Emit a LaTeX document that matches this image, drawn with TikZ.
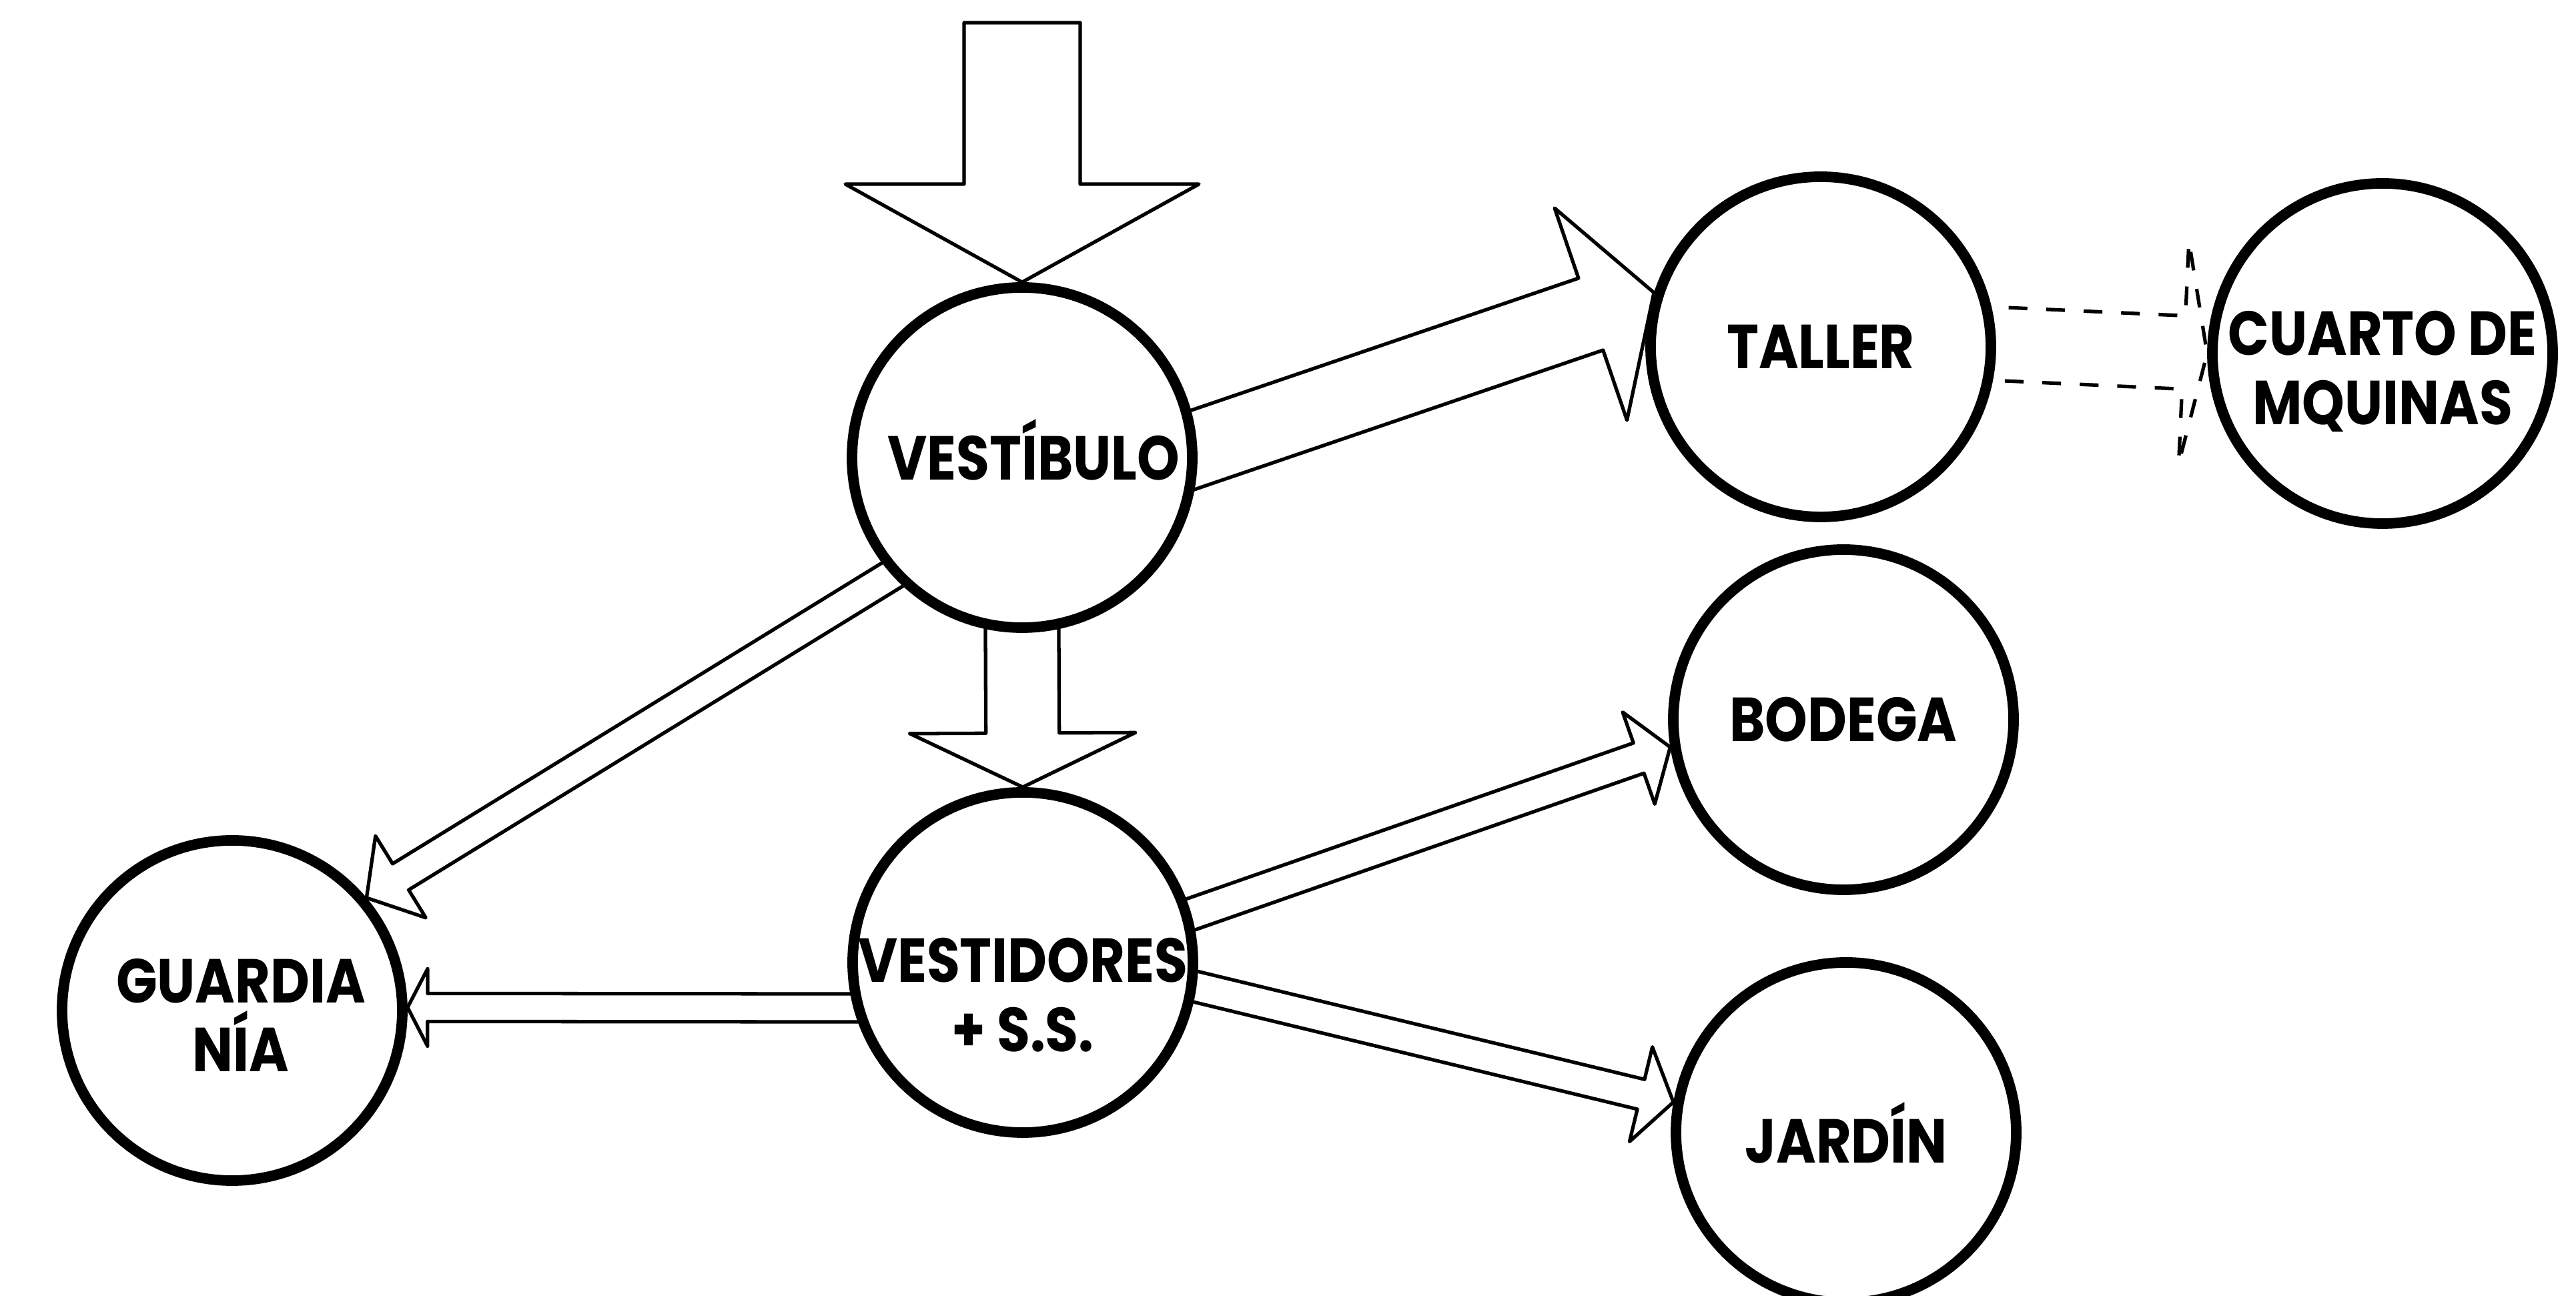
\documentclass[tikz,border=0pt]{standalone}
\usepackage{fontspec}
\setmainfont{Poppins}
\usetikzlibrary{calc,backgrounds}

% hollow block arrow: [style]{from}{to}{half shaft}{half head}{head length}
\newcommand{\blockarrow}[6][]{%
  \coordinate (ba-s) at ($(#2)!-4mm!(#3)$);
  \coordinate (ba-h) at ($(#3)!#6!(#2)$);
  \draw[arrowline,#1] ($(ba-s)!#4!90:(#3)$) -- ($(ba-h)!#4!-90:(ba-s)$)
    -- ($(ba-h)!#5!-90:(ba-s)$) -- (#3) -- ($(ba-h)!#5!90:(ba-s)$)
    -- ($(ba-h)!#4!90:(ba-s)$) -- ($(ba-s)!#4!-90:(#3)$);
}

\begin{document}
\begin{tikzpicture}[
  room/.style={circle, draw, line width=4.5pt, fill=white, minimum size=5.1cm, inner sep=0pt},
  roomtext/.style={font=\bfseries\fontsize{26.5}{29.5}\selectfont, align=center, inner sep=0pt,
    xscale=0.87, transform shape},
  arrowline/.style={line width=1.5pt, line join=round}]
  \useasboundingbox (0,0) rectangle (38.61,19.43);

  \coordinate (entry) at (15.32,19.09);

  \node[room, label={[roomtext, xshift=2mm, yshift=1.2mm]center:VESTÍBULO}] (vest) at (15.32,12.57) {};
  \node[room, label={[roomtext, yshift=-4.9mm]center:VESTIDORES\\+ S.S.}] (vestd) at (15.33,5.00) {};
  \node[room, label={[roomtext, xshift=1.5mm, yshift=-0.7mm]center:GUARDIA\\NÍA}] (guardia) at (3.48,4.28) {};
  \node[room, label={[roomtext]center:TALLER}] (taller) at (27.29,14.23) {};
  \node[room, label={[roomtext, yshift=-2.7mm]center:CUARTO DE\\MQUINAS}] (cuarto) at (35.71,14.13) {};
  \node[room, label={[roomtext]center:BODEGA}] (bodega) at (27.63,8.64) {};
  \node[room, label={[roomtext]center:JARDÍN}] (jardin) at (27.67,2.45) {};

  \begin{scope}[on background layer]
    % acceso
    \draw[arrowline] ($(entry)+(-0.87,0)$) -- ($(vest.north)+(-0.87,1.47)$)
      -- ($(vest.north)+(-2.65,1.47)$) -- (vest.north) -- ($(vest.north)+(2.65,1.47)$)
      -- ($(vest.north)+(0.87,1.47)$) -- ($(entry)+(0.87,0)$) -- cycle;

    \blockarrow{vest.south}{vestd.north}{0.55cm}{1.69cm}{0.81cm}
    \blockarrow{vest.3}{taller.162}{0.57cm}{1.68cm}{1cm}
    \blockarrow{vest.222}{guardia.40}{0.23cm}{0.72cm}{0.6cm}
    \blockarrow{vestd.195}{guardia.1}{0.21cm}{0.58cm}{0.3cm}
    \blockarrow{vestd.16}{bodega.189}{0.24cm}{0.73cm}{0.5cm}
    \blockarrow{vestd.352}{jardin.170}{0.23cm}{0.73cm}{0.5cm}
    \blockarrow[dash pattern=on 8pt off 8pt]{taller.1}{cuarto.180}{0.55cm}{1.67cm}{0.35cm}
  \end{scope}
\end{tikzpicture}
\end{document}
